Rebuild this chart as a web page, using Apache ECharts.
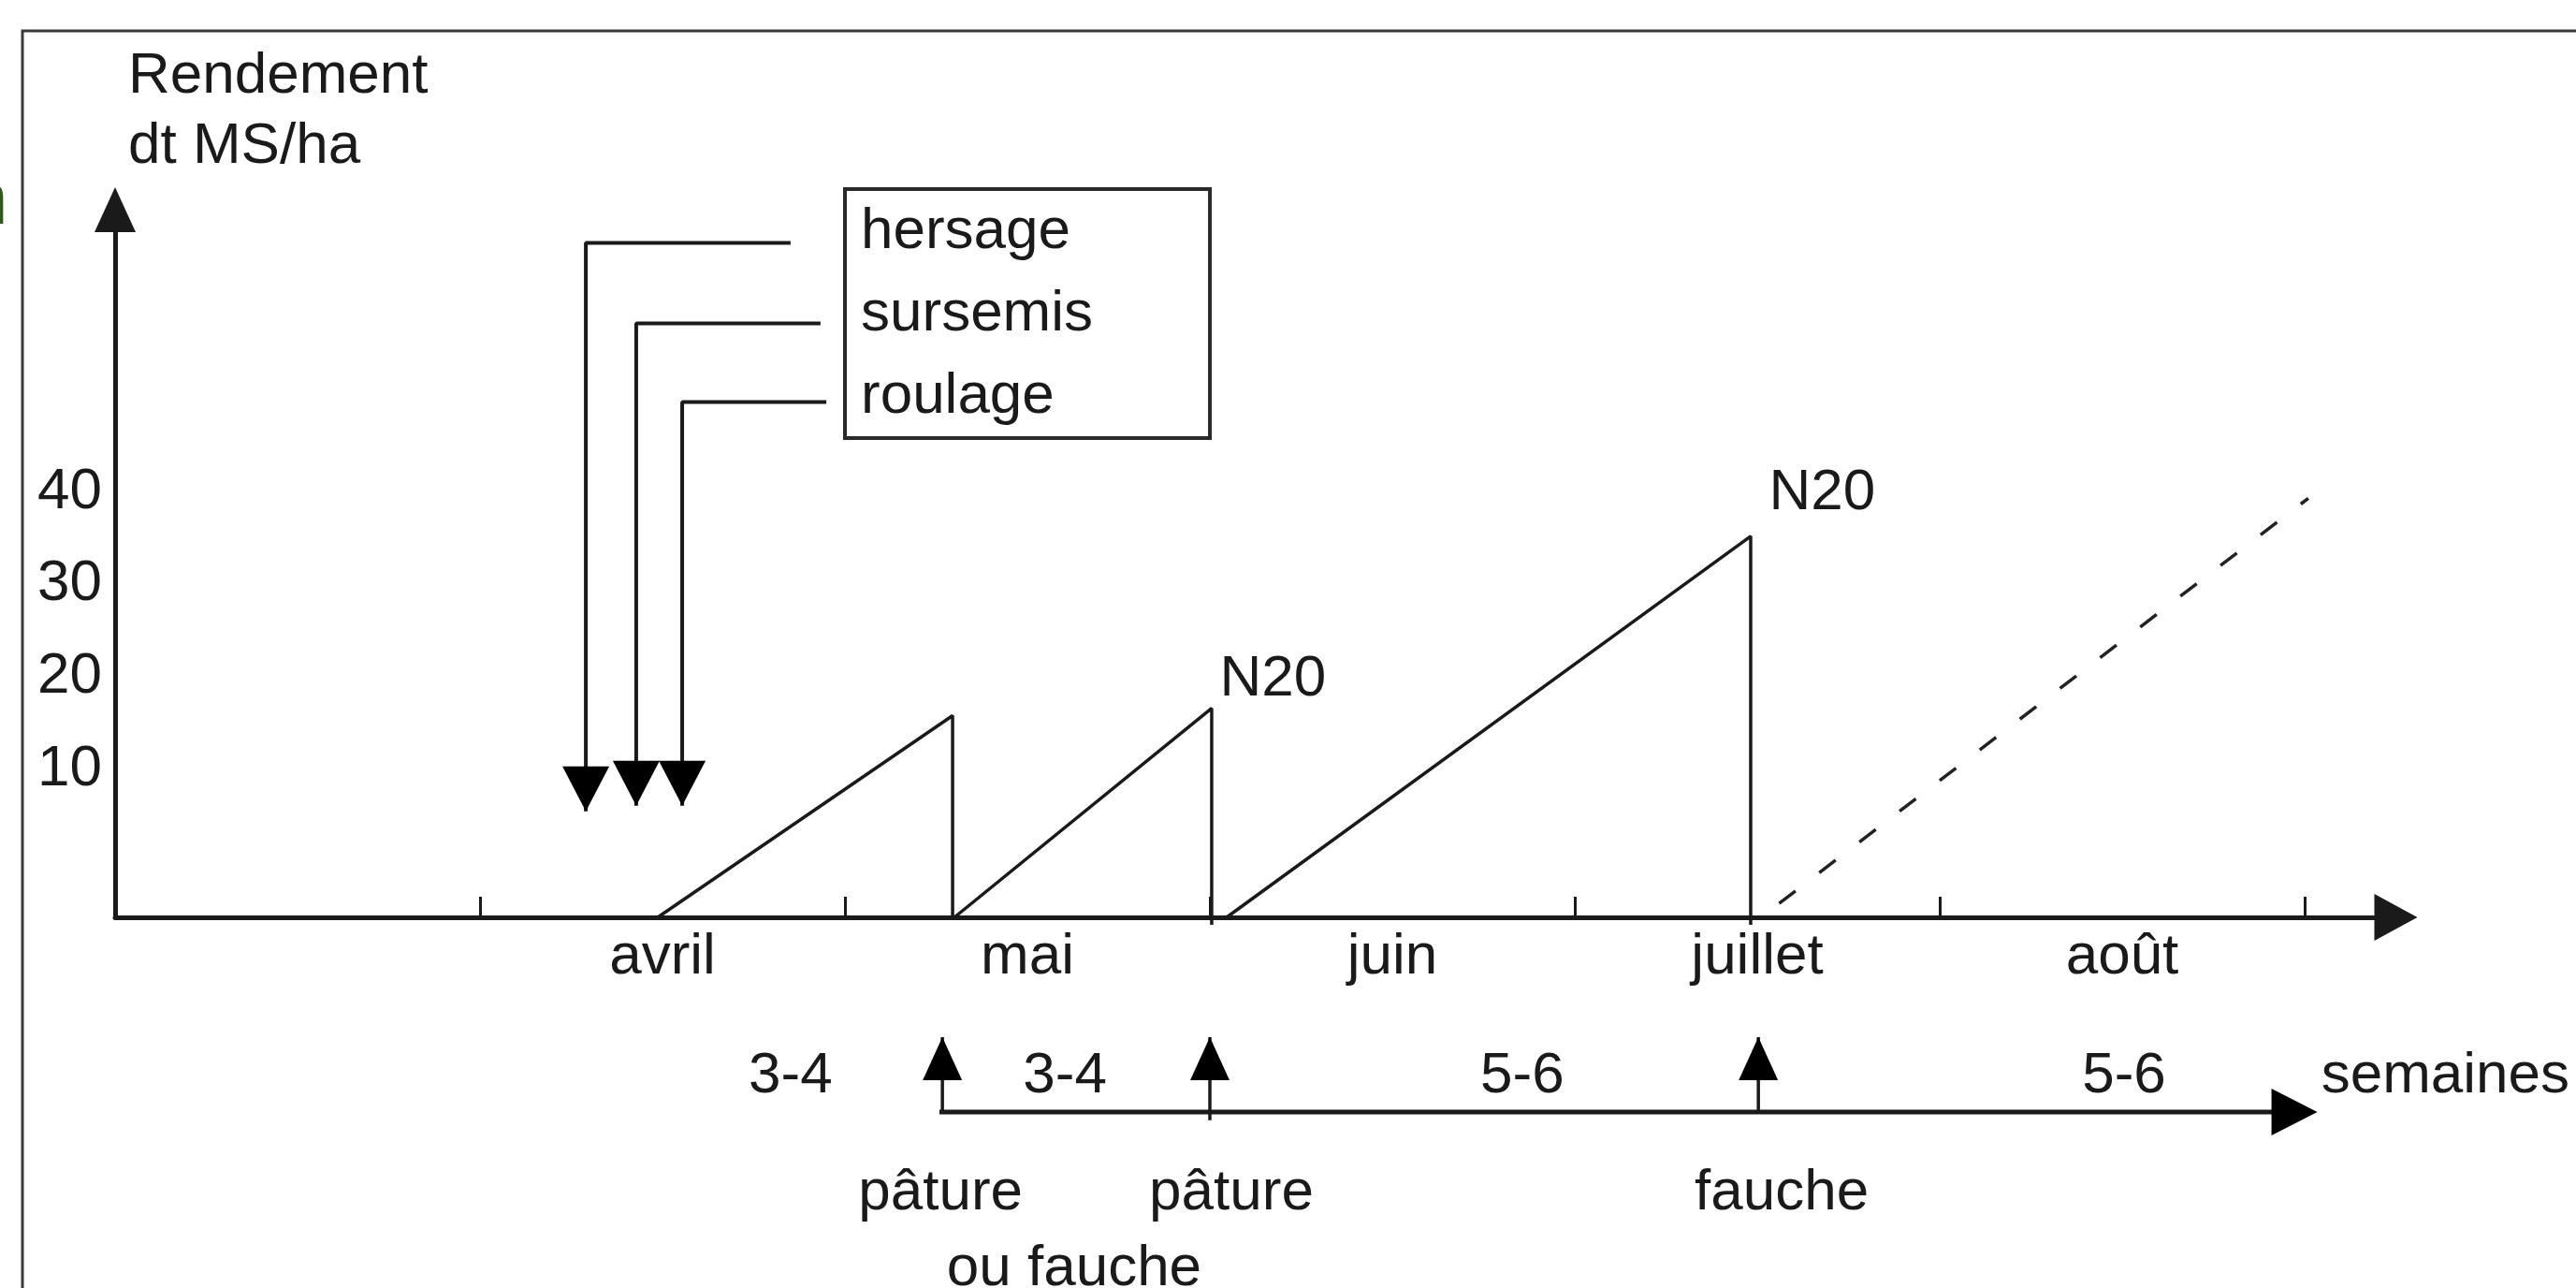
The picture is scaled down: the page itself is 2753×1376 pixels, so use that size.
<!DOCTYPE html>
<html><head><meta charset="utf-8">
<script src="https://cdn.jsdelivr.net/npm/echarts@6/dist/echarts.min.js"></script>
<style>html,body{margin:0;padding:0;background:#fff}#c{width:2753px;height:1376px}</style>
</head><body><div id="c"></div>
<script>
// ---------------- data (months counted from 1 March; yield in dt MS/ha) ----------------
const months = ['avril', 'mai', 'juin', 'juillet', 'août'];
const monthCenters = [1.5, 2.5, 3.5, 4.5, 5.5];
const monthTicks = [0, 1, 2, 3, 4, 5, 6];
const yTickLabels = [10, 20, 30, 40];
const axisFloor = -6;

// growth cycles (saw-tooth)
const cycleStartX = [1.487, 2.30, 3.046];
const cycleCutX = [2.295, 3.005, 4.482];
const cyclePeakY = [15.8, 16.6, 35.2];
const cycleCutBottomY = [-6, -6.8, -6.8];
const peakNotes = ['', 'N20', 'N20'];

// regrowth after the fauche (dashed)
const regrowthX = [4.56, 6.01];
const regrowthY = [-4.5, 39.3];

// spring interventions (arrows)
const interventions = ['hersage', 'sursemis', 'roulage'];
const interventionX = [1.290, 1.428, 1.554];
const interventionLineEndX = [1.851, 1.933, 1.949];
const interventionTopY = [66.9, 58.2, 49.7];
const interventionTipY = [5.45, 6.06, 6.06];

// timeline of uses (semaines)
const weeksLineX = [2.259, 5.972];
const eventX = [2.267, 3.0, 4.503];
const eventLineBottom = [0, -0.11, 0];
const intervalLabels = ['3-4', '3-4', '5-6', '5-6'];
const intervalLabelX = [1.851, 2.603, 3.856, 5.505];
const eventLabels = ['pâture', 'ou fauche', 'pâture', 'fauche'];
const eventLabelX = [2.262, 2.628, 3.059, 4.567];
const weeksUnitLabel = 'semaines';
const weeksUnitX = 6.044;

// ---------------- styling ----------------
const FONT = "'Liberation Sans Narrow', 'Arial Narrow', 'Liberation Sans', Arial, sans-serif";
const FS = 62;
const INK = '#1a1a1a';
const txt = (extra) => Object.assign({ fontFamily: FONT, fontSize: FS, color: INK, opacity: 1 }, extra || {});

const chart = echarts.init(document.getElementById('c'), null, { renderer: 'canvas' });

const series = [];

// saw-tooth growth cycles
for (let i = 0; i < cycleStartX.length; i++) {
  series.push({
    type: 'line', xAxisIndex: 0, yAxisIndex: 0, clip: false, symbol: 'none', silent: true,
    lineStyle: { color: INK, width: 3.5 },
    data: [[cycleStartX[i], axisFloor], [cycleCutX[i], cyclePeakY[i]], [cycleCutX[i], cycleCutBottomY[i]]]
  });
}
// N20 notes at peaks
const noteOffsets = [[0, 0], [8, -31], [19, -46]];
series.push({
  type: 'scatter', xAxisIndex: 0, yAxisIndex: 0, clip: false, silent: true,
  symbolSize: 1, itemStyle: { color: 'rgba(0,0,0,0)', opacity: 1 },
  data: cycleCutX.map((x, i) => ({
    value: [x, cyclePeakY[i]],
    label: { show: peakNotes[i] !== '', formatter: peakNotes[i], position: 'right', distance: 0,
      offset: noteOffsets[i], ...txt() }
  }))
});
// dashed regrowth
series.push({
  type: 'line', xAxisIndex: 0, yAxisIndex: 0, clip: false, symbol: 'none', silent: true,
  lineStyle: { color: '#222', width: 3.5, type: [22, 32] },
  data: regrowthX.map((x, i) => [x, regrowthY[i]])
});
// intervention arrows (also feed the boxed legend)
interventions.forEach((name, i) => {
  series.push({
    type: 'line', name: name, xAxisIndex: 0, yAxisIndex: 0, clip: false, symbol: 'none',
    showSymbol: true, silent: true, color: INK,
    lineStyle: { color: INK, width: 4 },
    itemStyle: { color: '#000', opacity: 1 },
    data: [
      [interventionLineEndX[i], interventionTopY[i]],
      [interventionX[i], interventionTopY[i]],
      { value: [interventionX[i], interventionTipY[i]], symbol: 'triangle', symbolSize: [50, 48],
        symbolRotate: 180, symbolOffset: [0, '-50%'] }
    ]
  });
});

// weeks timeline
series.push({
  type: 'line', xAxisIndex: 1, yAxisIndex: 1, clip: false, symbol: 'none', showSymbol: true, silent: true,
  lineStyle: { color: INK, width: 5 }, itemStyle: { color: '#000', opacity: 1 },
  data: [[weeksLineX[0], 0], { value: [weeksLineX[1], 0], symbol: 'triangle', symbolSize: [50, 49], symbolRotate: -90 }]
});
eventX.forEach((x, i) => {
  series.push({
    type: 'line', xAxisIndex: 1, yAxisIndex: 1, clip: false, symbol: 'none', showSymbol: true, silent: true,
    lineStyle: { color: INK, width: 3.5 }, itemStyle: { color: '#000', opacity: 1 },
    data: [[x, eventLineBottom[i]], { value: [x, 1], symbol: 'triangle', symbolSize: [42, 46], symbolOffset: [0, '50%'] }]
  });
});
// labels of the timeline
const INTERVAL_Y = 0.47, EVENT_Y = -1.09, EVENT_Y2 = -2.1;
const eventLabelY = [EVENT_Y, EVENT_Y2, EVENT_Y, EVENT_Y];
const timelineLabels = [];
intervalLabels.forEach((t, i) => timelineLabels.push({ value: [intervalLabelX[i], INTERVAL_Y], name: t }));
eventLabels.forEach((t, i) => timelineLabels.push({ value: [eventLabelX[i], eventLabelY[i]], name: t }));
timelineLabels.push({ value: [weeksUnitX, INTERVAL_Y], name: weeksUnitLabel, label: { position: 'right', distance: 0, align: 'left' } });
series.push({
  type: 'scatter', xAxisIndex: 1, yAxisIndex: 1, clip: false, silent: true,
  symbolSize: 1, itemStyle: { color: 'rgba(0,0,0,0)', opacity: 1 },
  label: { show: true, position: 'inside', formatter: (p) => p.name, textBorderWidth: 0, ...txt() },
  data: timelineLabels
});

const option = {
  animation: false,
  backgroundColor: '#ffffff',
  graphic: [
    { type: 'rect', shape: { x: 24, y: 33, width: 2900, height: 1500 }, style: { fill: 'none', stroke: '#3a3a3a', lineWidth: 3 }, silent: true },
    { type: 'text', x: -36, y: 257, style: { text: 'n', fill: '#2f5a1c', font: "80px 'Liberation Sans'", verticalAlign: 'bottom' }, silent: true }
  ],
  legend: {
    data: interventions, orient: 'vertical', left: 903, top: 202,
    itemWidth: 0, itemHeight: 0, itemGap: 0, icon: 'rect', selectedMode: false,
    padding: [2, 125, 0, 12],
    borderColor: '#2a2a2a', borderWidth: 4, backgroundColor: '#fff',
    textStyle: txt({ lineHeight: 88 })
  },
  grid: [
    { left: 123, right: 192.5, top: 224, bottom: 396 },
    { left: 123, right: 192.5, top: 1108, bottom: 0 }
  ],
  xAxis: [
    {
      type: 'value', gridIndex: 0, min: 0, max: 6.25,
      axisLine: { show: true, onZero: false, symbol: ['none', 'triangle'], symbolSize: [50, 46],
        lineStyle: { color: INK, width: 5 } },
      axisTick: { show: true, inside: true, length: 22, customValues: monthTicks, lineStyle: { color: INK, width: 3 } },
      axisLabel: { show: true, customValues: monthCenters, margin: 12,
        formatter: (v) => months[monthCenters.indexOf(v)] || '', ...txt() },
      splitLine: { show: false }
    },
    {
      type: 'value', gridIndex: 1, min: 0, max: 6.25, show: false
    }
  ],
  yAxis: [
    {
      type: 'value', gridIndex: 0, min: axisFloor, max: 70.5,
      name: 'Rendement\ndt MS/ha', nameLocation: 'end', nameGap: 30,
      nameTextStyle: txt({ align: 'left', verticalAlign: 'bottom', lineHeight: 75, padding: [0, 0, 0, 14] }),
      axisLine: { show: true, onZero: false, symbol: ['none', 'triangle'], symbolSize: [44, 48],
        lineStyle: { color: INK, width: 5 } },
      axisTick: { show: false },
      axisLabel: { show: true, customValues: yTickLabels, margin: 14, ...txt() },
      splitLine: { show: false }
    },
    { type: 'value', gridIndex: 1, min: -2.35, max: 1, show: false }
  ],
  series: series
};
chart.setOption(option);
</script>
</body></html>
